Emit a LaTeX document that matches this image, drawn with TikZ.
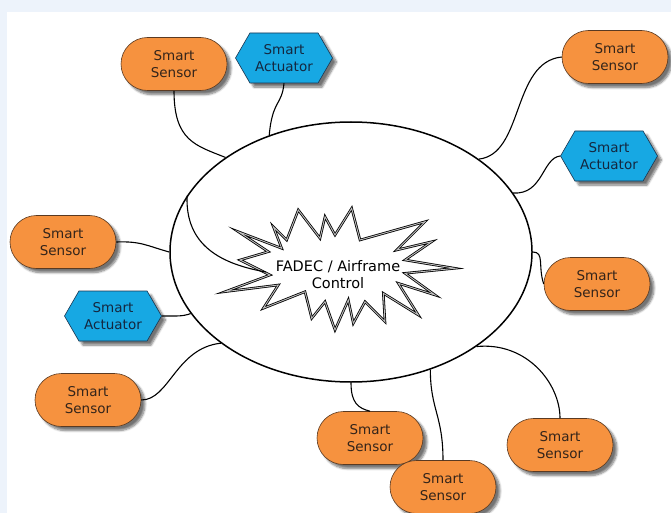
\documentclass[tikz,border=0pt]{standalone}
\usepackage{fontspec}
\setmainfont{DejaVu Sans}
\usetikzlibrary{shapes.misc,shapes.symbols,shapes.geometric,shadows.blur}

\definecolor{bgblue}{HTML}{EDF3FB}
\definecolor{sensorfill}{HTML}{F6923F}
\definecolor{sensorline}{HTML}{5A3A22}
\definecolor{sensortext}{HTML}{33241A}
\definecolor{actfill}{HTML}{17A8E3}
\definecolor{actline}{HTML}{1B3550}
\definecolor{acttext}{HTML}{14273F}

\begin{document}
\begin{tikzpicture}[x=1pt,y=-1pt,
  every node/.style={font=\fontsize{13.5}{17}\selectfont, align=center},
  softshadow/.style={blur shadow={shadow xshift=4pt, shadow yshift=-4pt,
      shadow blur steps=7, shadow opacity=55}},
  sensor/.style={rounded rectangle, draw=sensorline, line width=0.6pt,
      fill=sensorfill, text=sensortext, minimum width=106pt,
      minimum height=53pt, inner sep=0pt, softshadow},
  actuator/.style={signal, signal to=east and west, signal pointer angle=120,
      draw=actline, line width=0.6pt, fill=actfill, text=acttext,
      minimum width=97pt, minimum height=50pt, inner sep=0pt, softshadow},
  wire/.style={draw=black, line width=1.1pt},
  hubline/.style={draw=black, line width=1.5pt},
  burstline/.style={draw=black, line width=0.8pt, double=black!25,
      double distance=0.9pt, line join=miter},
]
% page background
\useasboundingbox (0,0) rectangle (671,513);
\fill[bgblue] (0,0) rectangle (671,12);
\fill[bgblue] (0,12) rectangle (7,513);

% central controller domain
\node[ellipse, hubline, minimum width=362pt, minimum height=260pt,
      inner sep=0pt] (hub) at (351,252) {};

% starburst around the controller label
\draw[burstline]
  (238.3,231.7) -- (281.7,248.3) -- (273.3,226.7) -- (286.7,240) --
  (298.3,210) -- (320,238.3) -- (325,216.7) -- (335,235) --
  (351.7,208.3) -- (360,240) -- (425,221.7) -- (396.7,250) --
  (431.7,241.7) -- (405,260) -- (455,268.3) -- (405,273.3) --
  (435,295) -- (398.3,283.3) -- (418.3,315) -- (383.3,293.3) --
  (385,321.7) -- (365,301.7) -- (353.3,323.3) -- (348.3,300) --
  (335,330) -- (325,301.7) -- (311.7,318.3) -- (305,291.7) --
  (263.3,308.3) -- (278.3,285) -- (225,291.7) -- (270,275) --
  (240,260) -- (268.3,251.7) -- cycle;
\node[text=black, font=\fontsize{14.5}{17.5}\selectfont]
  (core) at (338,274.5) {FADEC / Airframe\\Control};
\coordinate (burstin) at (266,272);

% peripheral devices
\node[sensor]   (s1)  at (174,64)  {Smart\\Sensor};
\node[actuator] (a1)  at (284,58)  {Smart\\Actuator};
\node[sensor]   (s3)  at (615,57)  {Smart\\Sensor};
\node[actuator] (a4)  at (609,156) {Smart\\Actuator};
\node[sensor]   (s5)  at (597,284) {Smart\\Sensor};
\node[sensor]   (s6)  at (63,242)  {Smart\\Sensor};
\node[actuator] (a7)  at (113,316) {Smart\\Actuator};
\node[sensor]   (s8)  at (88,400)  {Smart\\Sensor};
\node[sensor]   (s9)  at (370,438) {Smart\\Sensor};
\node[sensor]   (s10) at (443,487) {Smart\\Sensor};
\node[sensor]   (s11) at (560,445) {Smart\\Sensor};

% bus wiring
\draw[wire] (hub.161.5) .. controls +(-2,50) and +(-45,-8) .. (burstin);
\draw[wire] (s1.south) .. controls +(0,50) and +(-30,-12) .. (hub.143);
\draw[wire] (a1.south) .. controls +(-2,22) and +(3,-35) .. (hub.125);
\draw[wire] (s3.west) .. controls +(-50,5) and +(45,-5) .. (hub.36);
\draw[wire] (a4.west) .. controls +(-18,2) and +(30,2) .. (hub.20.5);
\draw[wire] (hub.0) .. controls +(12,0) and +(-6,-18) .. (s5.west);
\draw[wire] (s6.east) .. controls +(25,-1) and +(-22,-6) .. (hub.180);
\draw[wire] (a7.east) .. controls +(15,0) and +(-8,3) .. (hub.201);
\draw[wire] (s8.east) .. controls +(28,0) and +(-45,5) .. (hub.215);
\draw[wire] (hub.270) .. controls +(0,20) and +(-12,-3) .. (s9.north);
\draw[wire] (hub.304.5) .. controls +(0,40) and +(0,-45) .. (s10.north);
\draw[wire] (hub.323.6) .. controls +(50,-5) and +(0,-35) .. (s11.north);
\end{tikzpicture}
\end{document}
